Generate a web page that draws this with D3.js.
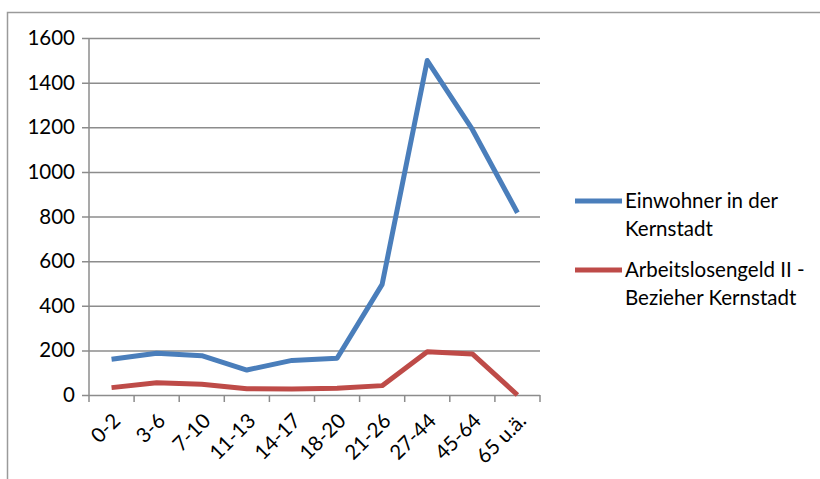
<!DOCTYPE html>
<html>
<head>
<meta charset="utf-8">
<script src="https://cdn.jsdelivr.net/npm/d3@7"></script>
<style>
  body { margin: 0; background: #fff; }
  svg { display: block; font-family: Lato, "Open Sans", sans-serif; }
</style>
</head>
<body>
<svg id="chart" width="820" height="479"></svg>
<script>
// age groups on the x axis
const categories = ['0-2', '3-6', '7-10', '11-13', '14-17', '18-20', '21-26', '27-44', '45-64', '65 u.ä.']

// values
const einwohner = [160, 187, 176, 112, 155, 165, 496, 1499, 1190, 817]
const alg2 = [33, 55, 48, 28, 27, 30, 42, 194, 184, 0]

const yTicks = [0, 200, 400, 600, 800, 1000, 1200, 1400, 1600]

const seriesNames = [
    ['Einwohner in der', 'Kernstadt'],
    ['Arbeitslosengeld II -', 'Bezieher Kernstadt']
]
const colors = ['#4a7ebb', '#be4b48']

const fontSize = 20.5

const draw = () => {
    const svg = d3.select('#chart')

    // outer frame, runs off the right and bottom edges
    svg.append('rect')
        .attr('x', 7.5).attr('y', 12.5)
        .attr('width', 830).attr('height', 480)
        .attr('fill', 'none')
        .attr('stroke', '#9a9a9a')
        .attr('stroke-width', 1.5)

    const left = 89, right = 540, top = 38, bottom = 395

    const x = d3.scaleBand()
        .domain(categories)
        .range([left, right])

    const y = d3.scaleLinear()
        .domain([0, 1600])
        .range([bottom, top])

    // gridlines + y axis
    const yAxis = d3.axisLeft(y)
        .tickValues(yTicks)
        .tickFormat(d3.format('d'))
        .tickSize(-(right - left))
        .tickPadding(14)

    const gy = svg.append('g')
        .attr('transform', `translate(${left},0)`)
        .call(yAxis)
    gy.select('.domain').remove()
    gy.selectAll('.tick line')
        .attr('x1', -7)
        .attr('stroke', '#8c8c8c')
        .attr('stroke-width', 1.5)
    gy.selectAll('.tick text')
        .attr('font-size', fontSize)
        .attr('fill', '#000')
        .attr('font-family', 'Lato, sans-serif')

    // vertical axis line
    svg.append('line')
        .attr('x1', left).attr('x2', left)
        .attr('y1', top).attr('y2', bottom)
        .attr('stroke', '#8c8c8c')
        .attr('stroke-width', 1.5)

    // x axis ticks at band boundaries
    const bounds = categories.map(c => x(c)).concat([right])
    svg.append('g')
        .selectAll('line')
        .data(bounds)
        .join('line')
        .attr('x1', d => d).attr('x2', d => d)
        .attr('y1', bottom).attr('y2', bottom + 7)
        .attr('stroke', '#8c8c8c')
        .attr('stroke-width', 1.5)

    // rotated category labels
    svg.append('g')
        .selectAll('text')
        .data(categories)
        .join('text')
        .attr('transform', d => `translate(${x(d) + x.bandwidth() / 2 + 5},${bottom + 22}) rotate(-45)`)
        .attr('text-anchor', 'end')
        .attr('dy', '0.35em')
        .attr('font-size', fontSize)
        .attr('fill', '#000')
        .text(d => d)

    // lines
    const line = d3.line()
        .x((d, i) => x(categories[i]) + x.bandwidth() / 2)
        .y(d => y(d))

    ;[einwohner, alg2].forEach((s, i) => {
        svg.append('path')
            .datum(s)
            .attr('d', line)
            .attr('fill', 'none')
            .attr('stroke', colors[i])
            .attr('stroke-width', 5)
            .attr('stroke-linejoin', 'round')
    })

    // legend
    const legendY = [201, 270]
    seriesNames.forEach((lines, i) => {
        const g = svg.append('g')
            .attr('transform', `translate(575,${legendY[i]})`)
        g.append('line')
            .attr('x1', 0).attr('x2', 47)
            .attr('stroke', colors[i])
            .attr('stroke-width', 5)
        g.selectAll('text')
            .data(lines)
            .join('text')
            .attr('x', 50)
            .attr('y', (d, j) => j * 28)
            .attr('dy', '0.35em')
            .attr('font-size', fontSize)
            .attr('fill', '#000')
            .text(d => d)
    })
}

draw()
</script>
</body>
</html>
